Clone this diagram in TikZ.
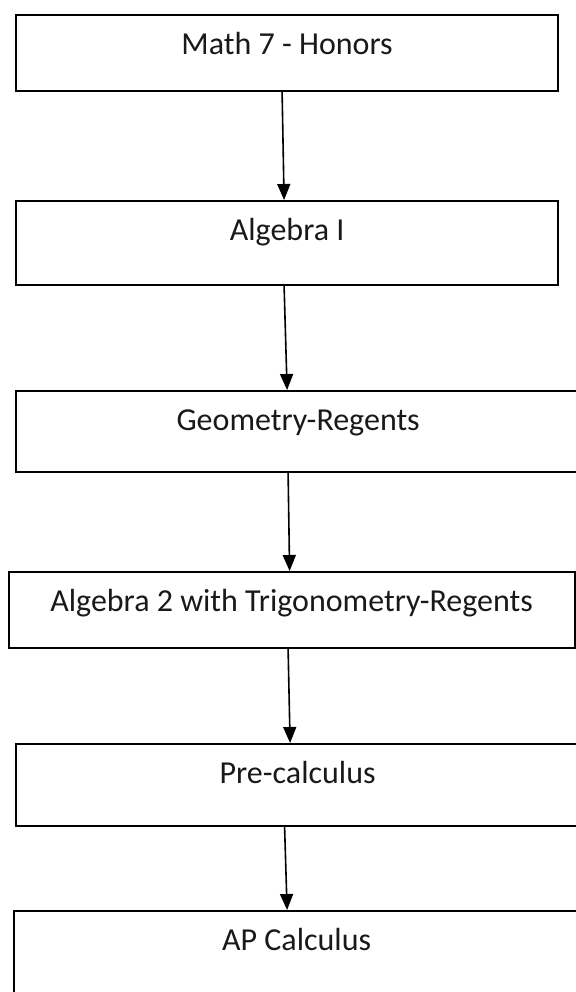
\documentclass[tikz,border=0pt]{standalone}
\usepackage{fontspec}
\setmainfont{Carlito}
\usepackage{tikz}
\usetikzlibrary{shapes, arrows.meta, positioning}
\newcommand{\coursefont}{\fontsize{16pt}{19pt}\selectfont}

\begin{document}
\begin{tikzpicture}
  [
    x=0.5pt, y=-0.5pt,
    Course/.style={draw=black, line width=1.1pt, inner sep=0pt, anchor=north west,
      font=\coursefont, text=black!90, text height=19.5pt},
    Link/.style={-{Triangle[width=6.5pt, length=8pt]}, draw, line width=0.8pt}
  ]
  \useasboundingbox (0,0) rectangle (576,992);
  % Nodes
  \node[Course, minimum width=271pt, text depth=18.5pt] (m7) at(15, 14) {Math 7 - Honors};
  \node[Course, minimum width=271pt, text depth=22.5pt] (alg1) at(15, 200) {Algebra I};
  \node[Course, minimum width=282pt, text depth=21pt] (geo) at(15, 390) {Geometry-Regents};
  \node[Course, minimum width=283pt, text depth=18.5pt] (alg2) at(7.5, 571) {Algebra 2 with Trigonometry-Regents};
  \node[Course, minimum width=281.5pt, text depth=21.5pt] (pre) at(15, 743) {Pre-calculus};
  \node[Course, minimum width=282.5pt, text depth=25.5pt] (ap) at(13, 910) {AP Calculus};
  % Lines
  \path [Link] ([xshift=-2.5pt]m7.south) -- ([xshift=-1.5pt]alg1.north);
  \path [Link] ([xshift=-1.5pt]alg1.south) -- ([xshift=-5.5pt]geo.north);
  \path [Link] ([xshift=-5pt]geo.south) -- ([xshift=-1pt]alg2.north);
  \path [Link] ([xshift=-1.75pt]alg2.south) -- ([xshift=-3.75pt]pre.north);
  \path [Link] ([xshift=-6.5pt]pre.south) -- ([xshift=-4.75pt]ap.north);
\end{tikzpicture}
\end{document}
